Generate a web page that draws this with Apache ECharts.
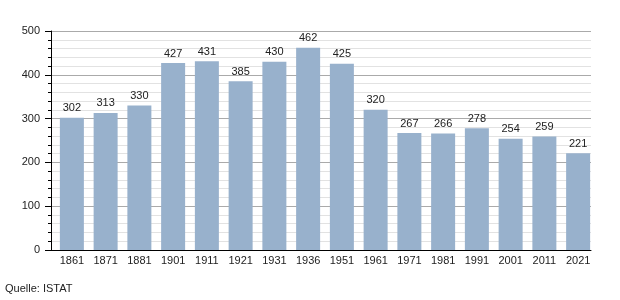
<!DOCTYPE html>
<html><head><meta charset="utf-8">
<script src="https://cdn.jsdelivr.net/npm/echarts@6/dist/echarts.min.js"></script>
<style>html,body{margin:0;padding:0;background:#fff}#c{width:620px;height:300px}</style>
</head><body><div id="c"></div>
<script>
const years = ['1861','1871','1881','1901','1911','1921','1931','1936','1951','1961','1971','1981','1991','2001','2011','2021'];
const population = [302,313,330,427,431,385,430,462,425,320,267,266,278,254,259,221];
const yTicks = [0,100,200,300,400,500];
const sourceText = 'Quelle: ISTAT';

const yMin = yTicks[0], yMax = yTicks[yTicks.length-1];
const chart = echarts.init(document.getElementById('c'), null, {renderer:'canvas'});
chart.setOption({
  animation:false,
  backgroundColor:'#fff',
  textStyle:{fontFamily:'Liberation Sans, Arial, sans-serif'},
  grid:[
    {left:51,right:29,top:31,bottom:50,containLabel:false},
    {left:55,right:25,top:31,bottom:50,containLabel:false}
  ],
  graphic:[{type:'text',left:5,top:283,style:{text:sourceText,font:'11px Liberation Sans, Arial, sans-serif',fill:'#222'}}],
  xAxis:[
    {
      gridIndex:0,type:'category',data:years,
      axisLine:{lineStyle:{color:'#000',width:1}},
      axisTick:{show:false},axisLabel:{show:false},splitLine:{show:false}
    },
    {
      gridIndex:1,type:'category',data:years,
      axisLine:{show:false},axisTick:{show:false},
      axisLabel:{color:'#222',fontSize:11,margin:5}
    }
  ],
  yAxis:[
    {
      gridIndex:0,type:'value',min:yMin,max:yMax,interval:100,
      axisLine:{show:true,lineStyle:{color:'#000',width:1}},
      axisTick:{show:true,length:6,lineStyle:{color:'#000'}},
      minorTick:{show:true,splitNumber:5,length:3,lineStyle:{color:'#000'}},
      splitLine:{show:true,lineStyle:{color:'#aaa',width:1}},
      minorSplitLine:{show:true,lineStyle:{color:'#e2e2e2',width:1}},
      axisLabel:{color:'#222',fontSize:11,margin:11}
    },
    {
      gridIndex:1,type:'value',min:yMin,max:yMax,interval:100,
      axisLine:{show:false},axisTick:{show:false},axisLabel:{show:false},
      splitLine:{show:false}
    }
  ],
  series:[{
    type:'bar',xAxisIndex:1,yAxisIndex:1,data:population,barWidth:24,
    itemStyle:{color:'#98b1cc'},
    label:{show:true,position:'top',color:'#222',fontSize:11,distance:4}
  }]
});
</script></body></html>
